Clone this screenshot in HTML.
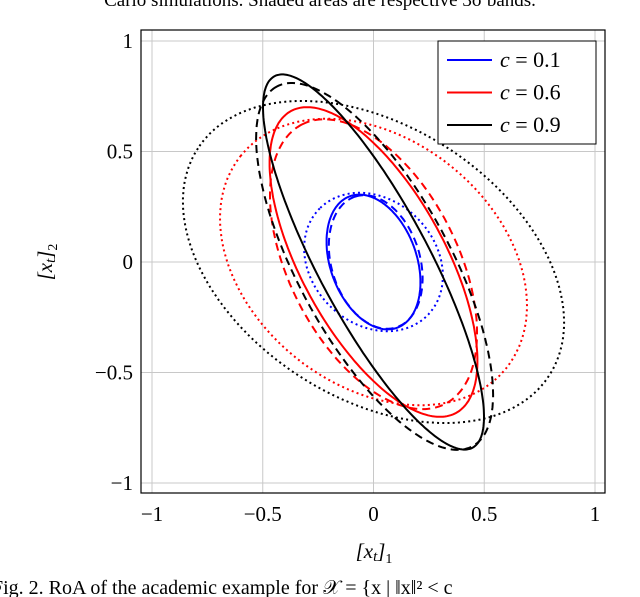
<!DOCTYPE html>
<html><head><meta charset="utf-8"><style>
body{margin:0;background:#fff;width:640px;height:597px;overflow:hidden}
svg{display:block;font-family:"Liberation Serif",serif}
</style></head><body>
<svg id="chart" width="640" height="597" viewBox="0 0 640 597">
<text x="320" y="6" font-size="19" text-anchor="middle">Carlo simulations. Shaded areas are respective 3σ bands.</text>
<g id="grid"></g>
<g id="curves"></g>
<rect x="141" y="30" width="464" height="463" fill="none" stroke="#000" stroke-width="1.2"/>
<g id="ticks"></g>
<text x="374" y="558" font-size="21" text-anchor="middle" font-style="italic">[x<tspan font-size="15" dy="3">t</tspan><tspan dy="-3">]</tspan><tspan font-size="14" font-style="normal" dy="5">1</tspan></text>
<text transform="translate(52,262) rotate(-90)" font-size="21" text-anchor="middle" font-style="italic">[x<tspan font-size="15" dy="3">t</tspan><tspan dy="-3">]</tspan><tspan font-size="14" font-style="normal" dy="5">2</tspan></text>
<g>
<rect x="438" y="41" width="158" height="103" fill="#fff" stroke="#000" stroke-width="1"/>
<g id="legend"></g>
</g>
<text x="-8" y="594" font-size="20">Fig. 2. RoA of the academic example for 𝒳 = {x | ‖x‖² &lt; c</text>
</svg>
<script>
const ticks=[-1,-0.5,0,0.5,1];
const tickLabels=["−1","−0.5","0","0.5","1"];
const seriesNames=["c = 0.1","c = 0.6","c = 0.9"];
const seriesColors=["#0000ff","#ff0000","#000000"];
// ellipses: series, style, center, semi-axes, rotation
const ellSeries=[0,0,0,1,1,1,2,2,2];
const ellStyle=["solid","dashed","dotted","solid","dashed","dotted","solid","dashed","dotted"];
const ellCx=[0,0.01,0,0,0,0,0,0.005,0];
const ellCy=[0,0,0,0,-0.01,0,0,-0.02,0];
const ellA=[0.316,0.31,0.343,0.778,0.71,0.768,0.952,0.926,0.945];
const ellB=[0.195,0.2,0.28,0.325,0.38,0.557,0.251,0.343,0.615];
const ellAng=[109.5,107,135,118.6,117,141.2,118,118.5,147];

const NS="http://www.w3.org/2000/svg";
const X=v=>373.5+v*221.5, Y=v=>262-v*221;
const grid=document.getElementById('grid'),tk=document.getElementById('ticks');
ticks.forEach((t,i)=>{
  let l=document.createElementNS(NS,'line');
  
  
  l.setAttribute('x1',X(t));l.setAttribute('x2',X(t));l.setAttribute('y1',30);l.setAttribute('y2',493);
  l.setAttribute('stroke','#c8c8c8');grid.appendChild(l);
  l=document.createElementNS(NS,'line');
  
  
  l.setAttribute('y1',Y(t));l.setAttribute('y2',Y(t));l.setAttribute('x1',141);l.setAttribute('x2',605);
  l.setAttribute('stroke','#c8c8c8');grid.appendChild(l);
  let tx=document.createElementNS(NS,'text');
  
  
  tx.setAttribute('x',X(t));tx.setAttribute('y',521);tx.setAttribute('font-size','21');tx.setAttribute('text-anchor','middle');
  tx.textContent=tickLabels[i];tk.appendChild(tx);
  tx=document.createElementNS(NS,'text');
  
  
  tx.setAttribute('x',133);tx.setAttribute('y',Y(t)+7);tx.setAttribute('font-size','21');tx.setAttribute('text-anchor','end');
  tx.textContent=tickLabels[i];tk.appendChild(tx);
});
const dash={solid:'',dashed:'8,5',dotted:'2,3.2'};
const cv=document.getElementById('curves');
for(let i=0;i<ellA.length;i++){
  const th=ellAng[i]*Math.PI/180;let d='';
  for(let k=0;k<=240;k++){const p=k/240*2*Math.PI;
    const ex=ellCx[i]+ellA[i]*Math.cos(p)*Math.cos(th)-ellB[i]*Math.sin(p)*Math.sin(th);
    const ey=ellCy[i]+ellA[i]*Math.cos(p)*Math.sin(th)+ellB[i]*Math.sin(p)*Math.cos(th);
    d+=(k?'L':'M')+X(ex).toFixed(1)+','+Y(ey).toFixed(1);}
  const pa=document.createElementNS(NS,'path');
  
  
  pa.setAttribute('d',d+'Z');pa.setAttribute('fill','none');pa.setAttribute('stroke',seriesColors[ellSeries[i]]);
  pa.setAttribute('stroke-width','2');if(dash[ellStyle[i]])pa.setAttribute('stroke-dasharray',dash[ellStyle[i]]);
  cv.appendChild(pa);
}
const lg=document.getElementById('legend');
seriesNames.forEach((n,i)=>{
  const y=60+i*32.5;
  const l=document.createElementNS(NS,'line');
  
  
  l.setAttribute('x1',447);l.setAttribute('x2',492);l.setAttribute('y1',y);l.setAttribute('y2',y);
  l.setAttribute('stroke',seriesColors[i]);l.setAttribute('stroke-width','2');lg.appendChild(l);
  const t=document.createElementNS(NS,'text');
  
  
  t.setAttribute('x',500);t.setAttribute('y',y+7);t.setAttribute('font-size','22');
  const parts=n.split(' = ');
  t.innerHTML='<tspan font-style="italic">'+parts[0]+'</tspan> = '+parts[1];
  lg.appendChild(t);
});
</script>
</body></html>
